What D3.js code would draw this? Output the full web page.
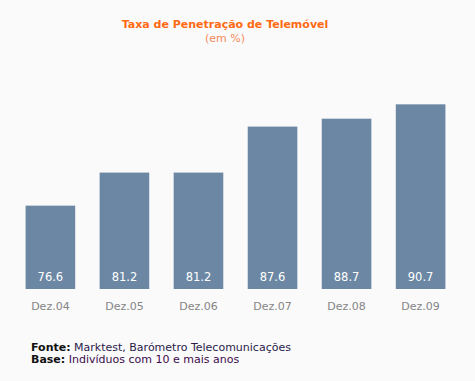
<!DOCTYPE html>
<html><head><meta charset="utf-8">
<script src="https://cdn.jsdelivr.net/npm/d3@7"></script>
<style>
html,body{margin:0;padding:0;background:#fafafa;}
svg{display:block;}
text{font-family:"DejaVu Sans",Verdana,sans-serif;}
</style></head>
<body>
<script>
const categories = ["Dez.04","Dez.05","Dez.06","Dez.07","Dez.08","Dez.09"];
const values = [76.6, 81.2, 81.2, 87.6, 88.7, 90.7];
const valueLabels = ["76.6","81.2","81.2","87.6","88.7","90.7"];
const title = "Taxa de Penetração de Telemóvel";
const subtitle = "(em %)";

const W = 475, H = 381;
const svg = d3.select("body").append("svg").attr("width", W).attr("height", H);
svg.append("rect").attr("width", W).attr("height", H).attr("fill", "#fafafa");

const x = d3.scaleBand().domain(categories).range([13, 458]).paddingInner(0.33).paddingOuter(0.17);
const y = d3.scaleLinear().domain([65, 100]).range([289, 37.5]);

svg.append("text").attr("x", 225).attr("y", 28).attr("text-anchor", "middle")
  .attr("font-size", 11).attr("font-weight", "bold").attr("fill", "#ff6a13").text(title);
svg.append("text").attr("x", 225).attr("y", 42).attr("text-anchor", "middle")
  .attr("font-size", 11).attr("fill", "#f58a5a").text(subtitle);

svg.selectAll("rect.bar").data(values).join("rect").attr("class", "bar")
  .attr("x", (d, i) => x(categories[i])).attr("width", x.bandwidth())
  .attr("y", d => y(d)).attr("height", d => y(65) - y(d))
  .attr("fill", "#6b87a4");

svg.selectAll("text.val").data(values).join("text").attr("class", "val")
  .attr("x", (d, i) => x(categories[i]) + x.bandwidth() / 2).attr("y", 281)
  .attr("text-anchor", "middle").attr("font-size", 11.5).attr("fill", "#ffffff")
  .text((d, i) => valueLabels[i]);

const axis = d3.axisBottom(x).tickSize(0).tickPadding(0);
const g = svg.append("g").attr("transform", "translate(0,302)").call(axis);
g.select(".domain").remove();
g.selectAll("text").attr("font-size", 11).attr("fill", "#858585")
  .attr("font-family", "DejaVu Sans, Verdana, sans-serif").attr("dy", "0.71em");

const foot = svg.append("g").attr("font-size", 11);
const t1 = foot.append("text").attr("x", 31).attr("y", 351);
t1.append("tspan").attr("font-weight", "bold").attr("fill", "#111").text("Fonte:");
t1.append("tspan").attr("fill", "#2a1a4a").text(" Marktest, Barómetro Telecomunicações");
const t2 = foot.append("text").attr("x", 31).attr("y", 363);
t2.append("tspan").attr("font-weight", "bold").attr("fill", "#111").text("Base:");
t2.append("tspan").attr("fill", "#3a0a4a").text(" Indivíduos com 10 e mais anos");
</script>
</body></html>
